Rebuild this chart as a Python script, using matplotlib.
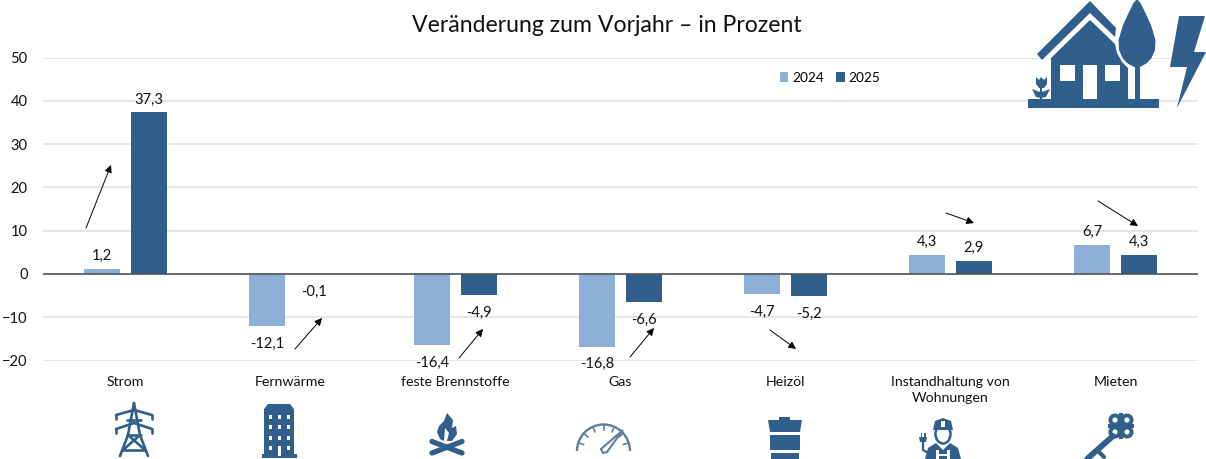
import numpy as np
import matplotlib
matplotlib.use('Agg')
import matplotlib.pyplot as plt
from matplotlib.patches import Polygon, Rectangle, Circle, Arc, Ellipse

plt.rcParams['font.family'] = ['Lato', 'DejaVu Sans']

categories = ['Strom', 'Fernwärme', 'feste Brennstoffe', 'Gas', 'Heizöl',
              'Instandhaltung von\nWohnungen', 'Mieten']
values_2024 = [1.2, -12.1, -16.4, -16.8, -4.7, 4.3, 6.7]
values_2025 = [37.3, -0.1, -4.9, -6.6, -5.2, 2.9, 4.3]
labels_2024 = ['1,2', '-12,1', '-16,4', '-16,8', '-4,7', '4,3', '6,7']
labels_2025 = ['37,3', '-0,1', '-4,9', '-6,6', '-5,2', '2,9', '4,3']
yticks = [-20, -10, 0, 10, 20, 30, 40, 50]

LIGHT = '#8CB0D8'
DARK = '#2F5F8A'
GAUGE = '#5D7F9E'
W, H = 1206, 459

fig = plt.figure(figsize=(W / 100, H / 100), dpi=100)
ax = fig.add_axes([43 / W, (H - 360.5) / H, 1155 / W, 303 / H])

x = np.arange(len(categories))
off = 0.1424
b1 = ax.bar(x - off, values_2024, 0.224, color=LIGHT, label='2024', zorder=2)
b2 = ax.bar(x + off, values_2025, 0.224, color=DARK, label='2025', zorder=2)

for xs, vals, labs in [(x - off, values_2024, labels_2024), (x + off, values_2025, labels_2025)]:
    for xi, v, t in zip(xs, vals, labs):
        d = 13 if v > 0 else -17.5
        ax.annotate(t, (xi, v), xytext=(0, d), textcoords='offset pixels',
                    ha='center', va='center', fontsize=10.6, color='#111111')

ax.set_xlim(-0.5, 6.5)
ax.set_ylim(-20, 50)
ax.set_yticks(yticks)
ax.set_xticks(x)
ax.set_xticklabels(categories, fontsize=10.2, color='#111111', linespacing=1.4)
ax.tick_params(axis='both', length=0)
ax.tick_params(axis='x', pad=11)
ax.tick_params(axis='y', pad=11, labelsize=10.5, labelcolor='#111111')
ax.grid(axis='y', color='#E2E2E2', lw=1.2, zorder=0)
ax.axhline(0, color='#555555', lw=1.2, zorder=3)
for s in ax.spines.values():
    s.set_visible(False)

leg = fig.legend(handles=[b1, b2], loc='center', bbox_to_anchor=(830 / W, (H - 77.5) / H),
                 ncol=2, frameon=False, fontsize=9.8, handlelength=0.65,
                 handletextpad=0.3, columnspacing=0.85)

fig.text(606.5 / W, (H - 25) / H, 'Veränderung zum Vorjahr – in Prozent',
         ha='center', va='center', fontsize=16.6, color='#111111')

# overlay in pixel coordinates for arrows and icons
ov = fig.add_axes([0, 0, 1, 1], zorder=5)
ov.set_xlim(0, W)
ov.set_ylim(H, 0)
ov.axis('off')
ov.patch.set_alpha(0)

arrows = [((86, 228), (111, 165)), ((295, 349), (322, 318)), ((459, 358), (483, 329)),
          ((630, 357), (654, 328)), ((770, 330), (796, 349)), ((946, 213), (974, 223)),
          ((1098, 201), (1138, 226))]
for a, b in arrows:
    ov.annotate('', xy=b, xytext=a,
                arrowprops=dict(arrowstyle='-|>', color='black', lw=0.7,
                                mutation_scale=11, shrinkA=0, shrinkB=0))


def poly(pts, c=DARK, **kw):
    ov.add_patch(Polygon(pts, closed=True, fc=c, ec='none', **kw))


def rect(x0, y0, x1, y1, c=DARK):
    ov.add_patch(Rectangle((x0, y0), x1 - x0, y1 - y0, fc=c, ec='none'))


def line(pts, lw=2, c=DARK):
    p = np.array(pts)
    ov.plot(p[:, 0], p[:, 1], color=c, lw=lw, solid_capstyle='round')


# house
rect(1028, 99, 1159, 108)
poly([(1037, 54), (1090, 1), (1116, 28), (1115, 37), (1090, 13), (1042, 60)])
poly([(1051, 99), (1051, 58), (1090, 20), (1115, 44), (1117, 53), (1122, 62), (1128, 68), (1128, 99)])
rect(1060, 65, 1075, 81, 'white')
rect(1083, 65, 1097, 99, 'white')
rect(1105, 65, 1120, 81, 'white')
tree_ys = [-1, 3, 10, 25, 40, 50, 58, 63, 67]
tree_hw = [0, 3.5, 7, 14, 18.5, 18, 14.5, 10, 3]
tree_x = [1137 - h for h in tree_hw] + [1137 + h for h in tree_hw[::-1]]
tree_y = tree_ys + tree_ys[::-1]
poly(np.c_[tree_x, tree_y])
rect(1134.5, 60, 1140, 99)
poly([(1179, 16), (1205, 16), (1194, 52), (1206, 52), (1177, 108), (1187, 67), (1170, 67)])
# flower
rect(1040, 86, 1042, 99)
poly([(1036, 77), (1039, 80), (1041, 77), (1044, 80), (1047, 77), (1047, 84), (1044, 88), (1039, 88), (1036, 84)])
poly([(1032, 89), (1040, 92), (1041, 98), (1036, 97)])
poly([(1050, 89), (1042, 92), (1041, 98), (1046, 97)])

# pylon
for pts in [[(134, 403), (128, 435), (120, 456)], [(134, 403), (140, 435), (148, 456)],
            [(116, 415), (134, 410), (152, 415)], [(116, 429), (134, 423), (152, 429)],
            [(127, 420), (141, 420)], [(127, 435), (141, 435)],
            [(128, 435), (145, 450)], [(140, 435), (123, 450)], [(123, 450), (145, 450)]]:
    line(pts, lw=1.9)
for px, py in [(116, 415), (152, 415), (116, 429), (152, 429)]:
    line([(px, py), (px, py + 4)], lw=1.9)

# building
poly([(264, 455), (264, 409), (268, 404), (290, 404), (294, 409), (294, 455)])
rect(262, 454, 297, 458)
for wy in [415, 425, 436, 446]:
    for wx in [269, 278, 287]:
        if wy == 446 and wx == 278:
            rect(wx - 0.5, wy, wx + 3, 456, 'white')
        else:
            rect(wx - 0.5, wy, wx + 3, wy + 4, 'white')

# fire
poly([(447, 413), (453, 420), (452, 428), (456, 426), (457, 434), (452, 441), (447, 441),
      (449, 433), (445, 428), (444, 441), (440, 439), (437, 432), (439, 426), (444, 421)])
line([(432, 441.5), (462, 453)], lw=3.8)
line([(462, 441.5), (432, 453)], lw=3.8)

# gauge
ov.add_patch(Arc((603.5, 451), 53, 53, theta1=180, theta2=360, color=GAUGE, lw=1.7))
for ang in np.radians(np.arange(198, 350, 24)):
    ov.plot([603.5 + 26 * np.cos(ang), 603.5 + 21 * np.cos(ang)],
            [451 + 26 * np.sin(ang), 451 + 21 * np.sin(ang)], color=GAUGE, lw=1.2)
ov.add_patch(Polygon([(623, 430), (607, 452), (603, 453), (601, 449)], fc='white', ec=GAUGE, lw=1.5))

# barrel
poly([(768, 420), (802, 420), (800, 432), (770, 432)])
rect(779, 417, 790, 421)
rect(770, 435, 800, 450)
rect(771, 453, 799, 459)

# worker
poly([(925, 459), (928, 448), (936, 443), (943, 450), (950, 443), (958, 448), (961, 459)])
ov.add_patch(Ellipse((943, 434), 15, 19, fc='white', ec=DARK, lw=1.8))
poly([(933, 430), (935, 421), (943, 418), (951, 421), (953, 430)])
rect(941, 421, 945, 427, 'white')
rect(936, 450, 939, 459, 'white')
rect(947, 450, 950, 459, 'white')
rect(939, 454, 947, 456, 'white')
line([(923, 442), (923, 450), (930, 454), (930, 459)], lw=1.6)
poly([(919, 437), (927, 437), (926, 442), (920, 442)])
rect(920.5, 433, 922, 437)
rect(924, 433, 925.5, 437)

# key
key_cx = [1115, 1127, 1115, 1127]
key_cy = [420, 420, 432, 432]
for cx, cy in zip(key_cx, key_cy):
    ov.add_patch(Circle((cx, cy), 6.5, fc=DARK, ec='none'))
rect(1119, 413, 1123, 439)
rect(1108, 424, 1134, 428)
for cx, cy in zip(key_cx, key_cy):
    ov.add_patch(Circle((cx, cy), 2.6, fc='white', ec='none'))
line([(1113, 436), (1087, 459)], lw=4.2)
line([(1097, 450), (1104, 457)], lw=3)

fig.savefig('out.png', dpi=100)
